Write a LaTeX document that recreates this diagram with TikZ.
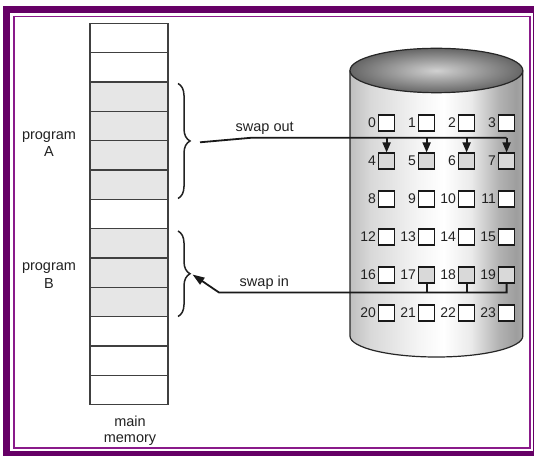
\documentclass[tikz,border=0pt]{standalone}
\usepackage{fontspec}
\setmainfont{Liberation Sans}
\usetikzlibrary{arrows.meta,decorations.pathreplacing,calc}
\definecolor{framedark}{HTML}{660066}
\definecolor{framethin}{HTML}{8A1A8A}
\definecolor{cellgray}{HTML}{E6E6E6}
\definecolor{boxgray}{HTML}{D9D9D9}
\definecolor{ink}{HTML}{222222}
\pgfdeclarehorizontalshading{cylbody}{100bp}{color(0bp)=(black!25); color(25bp)=(black!25); color(31bp)=(black!15); color(45bp)=(black!4); color(52bp)=(white); color(60bp)=(black!8); color(68bp)=(black!30); color(73bp)=(black!38); color(75bp)=(black!35); color(100bp)=(black!35)}
\begin{document}
\begin{tikzpicture}[x=1pt,y=1pt,
  cell/.style={draw=black!75, line width=1.2pt, minimum width=78pt, minimum height=29.33pt, inner sep=0pt, outer sep=0pt},
  slot/.style={draw=black!90, line width=1.1pt, minimum width=16pt, minimum height=16pt, inner sep=0pt},
  num/.style={inner sep=0pt, text=ink, font=\fontsize{14}{16}\selectfont},
  lbl/.style={inner sep=0pt, text=ink, font=\fontsize{14.5}{17.5}\selectfont},
  bracestyle/.style={decorate, decoration={brace, amplitude=12pt}, line width=1.5pt, draw=ink},
  conn/.style={draw=black!90, line width=1.8pt, line join=miter},
]
\useasboundingbox (0,0) rectangle (534,455);
\clip (0,0) rectangle (534,455);
\fill[white] (0,0) rectangle (534,455);
% frame
\draw[framedark, line width=7pt] (6.5,1) rectangle (536,445.5);
\draw[framethin, line width=1.8pt] (13.7,6.7) rectangle (530,438.5);
% main memory column
\foreach \k/\f in {1/white,2/white,3/cellgray,4/cellgray,5/cellgray,6/cellgray,7/white,8/cellgray,9/cellgray,10/cellgray,11/white,12/white,13/white}
  \node[cell, fill=\f] (m\k) at (129,{431.7-29.33*(\k-0.5)}) {};
% braces
\draw[bracestyle] (178,371.5) -- (178,256.5);
\draw[bracestyle] (178,224) -- (178,138.5);
% labels
\node[lbl, align=center] (pA) at (49,310.9) {program\\A};
\node[lbl, align=center] (pB) at (49,179.3) {program\\B};
\node[lbl, align=center, font=\fontsize{14.5}{16}\selectfont] (mm) at (130,24) {main\\memory};
% cylinder
\shade[shading=cylbody] (350,384.5) -- (350,119) arc[start angle=180,end angle=360,x radius=86.4,y radius=21] -- (522.8,384.5) -- cycle;
\draw[line width=1.2pt, black!85] (350,384.5) -- (350,119) arc[start angle=180,end angle=360,x radius=86.4,y radius=21] -- (522.8,384.5);
\shadedraw[inner color=black!18, outer color=black!60, draw=black!85, line width=1.2pt] (436.4,384.5) ellipse [x radius=86.4, y radius=22.2];
% slots
\foreach \j in {0,...,5} {
  \foreach \i in {0,...,3} {
    \pgfmathtruncatemacro\n{4*\j+\i}
    \ifnum\n<4 \def\f{white}\else\ifnum\n<8 \def\f{boxgray}\else\ifnum\n<17 \def\f{white}\else\ifnum\n<20 \def\f{boxgray}\else\def\f{white}\fi\fi\fi\fi
    \node[slot, fill=\f] (b\n) at ({386.6+40*\i},{332-38*\j}) {};
    \node[num, anchor=east, xshift=-2pt] (n\n) at (b\n.west) {\n};
  }
}
% swap out
\coordinate (soStart) at (200,312.7);
\coordinate (soBend) at (252,317.3);
\draw[conn] (soStart) -- (soBend) -- (soBend -| b7.north);
\foreach \n in {4,5,6,7}
  \draw[conn, -{Triangle[length=10pt,width=8pt]}] (soBend -| b\n.north) -- (b\n.north);
\node[lbl, anchor=base] (so) at (264.7,323) {swap out};
% swap in
\coordinate (siBend) at (219,162.5);
\coordinate (siTip) at (192.5,180.5);
\foreach \n in {17,18}
  \draw[conn] (b\n.south) -- (b\n.south |- siBend);
\draw[conn, -{Triangle[length=12pt,width=8pt]}] (b19.south) -- (b19.south |- siBend) -- (siBend) -- (siTip);
\node[lbl, anchor=base] (si) at (264.3,168.5) {swap in};
\end{tikzpicture}
\end{document}
